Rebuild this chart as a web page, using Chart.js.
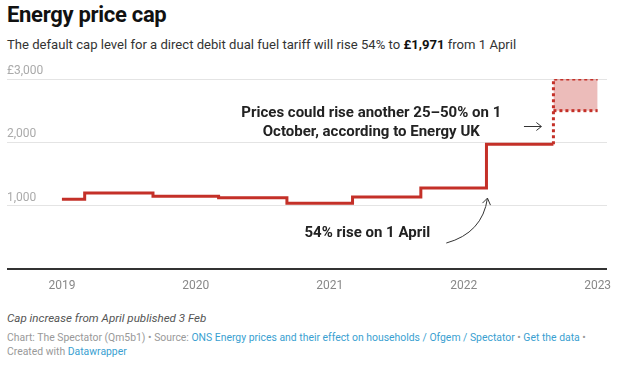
<!DOCTYPE html>
<html>
<head>
<meta charset="utf-8">
<script src="https://cdn.jsdelivr.net/npm/chart.js@4/dist/chart.umd.min.js"></script>
<style>
  html,body{margin:0;padding:0;background:#fff;width:620px;height:376px;overflow:hidden;font-family:Roboto,"Noto Sans",sans-serif;}
  #title{position:absolute;left:7px;top:2px;font-size:22px;font-weight:700;color:#111;letter-spacing:-0.3px;}
  #sub{position:absolute;left:7px;top:37px;font-size:13.1px;color:#333;}
  #sub b{color:#111;}
  #wrap{position:absolute;left:0;top:60px;width:620px;height:240px;}
  #note{position:absolute;left:7px;top:311px;font-size:11.6px;font-style:italic;color:#555;}
  #src{position:absolute;left:7px;top:331px;font-size:10.4px;color:#999;line-height:14px;}
  #src span.l{color:#3a9fd1;}
</style>
</head>
<body>
<div id="title">Energy price cap</div>
<div id="sub">The default cap level for a direct debit dual fuel tariff will rise 54% to <b>£1,971</b> from 1 April</div>
<div id="wrap"><canvas id="c"></canvas></div>
<div id="note">Cap increase from April published 3 Feb</div>
<div id="src">Chart: The Spectator (Qm5b1) • Source: <span class="l">ONS Energy prices and their effect on households / Ofgem / Spectator</span> • <span class="l">Get the data</span> •<br>Created with <span class="l">Datawrapper</span></div>
<script>
// Dates as decimal years (step start), cap level in £
const capDates  = [2019.0, 2019.17, 2019.68, 2020.17, 2020.68, 2021.17, 2021.68, 2022.17, 2022.67];
const capValues = [1100,   1200,    1150,    1125,    1040,    1138,    1277,    1971,    1971];
// Projected October range (Energy UK: +25–50%)
const projDates = [2022.67, 2023.0];
const projLow   = [2500, 2500];
const projHigh  = [3000, 3000];
const jumpLine  = [[2022.67, 1971], [2022.67, 3000]];
const yearTicks = [2019, 2020, 2021, 2022, 2023];
const yTicks    = [0, 1000, 2000, 3000];

const RED = 'rgb(196,48,40)';
const pts = (xs, ys) => xs.map((x, i) => ({x, y: ys[i]}));

const annot = {
  id: 'annot',
  afterDatasetsDraw(chart) {
    const {ctx, scales:{x, y}} = chart;
    ctx.save();
    ctx.fillStyle = '#222';
    ctx.font = 'bold 15px Roboto, sans-serif';
    ctx.textAlign = 'center';
    ctx.textBaseline = 'middle';
    const cx = x.getPixelForValue(2021.31);
    ctx.fillText('Prices could rise another 25–50% on 1', cx, y.getPixelForValue(2460));
    ctx.fillText('October, according to Energy UK', cx, y.getPixelForValue(2160));
    ctx.fillText('54% rise on 1 April', x.getPixelForValue(2021.28), y.getPixelForValue(560));

    ctx.strokeStyle = '#333';
    ctx.lineWidth = 1;
    // straight arrow to projection
    const ay = y.getPixelForValue(2250);
    const ax0 = x.getPixelForValue(2022.45), ax1 = x.getPixelForValue(2022.58);
    ctx.beginPath(); ctx.moveTo(ax0, ay); ctx.lineTo(ax1, ay);
    ctx.moveTo(ax1 - 5, ay - 4); ctx.lineTo(ax1, ay); ctx.lineTo(ax1 - 5, ay + 4);
    ctx.stroke();
    // curved arrow to April rise
    const tx = x.getPixelForValue(2022.17) + 1, ty = y.getPixelForValue(1277) + 10;
    const sx = x.getPixelForValue(2021.87), sy = y.getPixelForValue(410);
    ctx.beginPath(); ctx.moveTo(sx, sy);
    ctx.quadraticCurveTo(tx - 5, sy - 10, tx, ty);
    ctx.stroke();
    ctx.beginPath();
    ctx.moveTo(tx - 5, ty + 5); ctx.lineTo(tx, ty); ctx.lineTo(tx + 3, ty + 7);
    ctx.stroke();
    ctx.restore();
  }
};

new Chart(document.getElementById('c'), {
  type: 'line',
  data: {
    datasets: [
      { data: pts(capDates, capValues), stepped: 'before', borderColor: RED, borderWidth: 3, pointRadius: 0, fill: false },
      { data: jumpLine.map(p => ({x: p[0], y: p[1]})).concat([{x: projDates[1], y: projHigh[1]}]), borderColor: RED, borderWidth: 3, borderDash: [3, 3], pointRadius: 0, fill: false },
      { data: pts(projDates, projLow), borderColor: RED, borderWidth: 3, borderDash: [3, 3], pointRadius: 0, fill: false },
      { data: pts(projDates, projHigh), borderWidth: 0, borderColor: 'rgba(0,0,0,0)', backgroundColor: 'rgba(196,48,40,0.32)', pointRadius: 0, fill: '-1' }
    ]
  },
  options: {
    responsive: true, maintainAspectRatio: false, animation: false,
    layout: { padding: { left: 7, right: 13, top: 19, bottom: 0 } },
    plugins: { legend: { display: false }, tooltip: { enabled: false } },
    scales: {
      x: {
        type: 'linear', min: 2018.59, max: 2023.07,
        afterBuildTicks: s => { s.ticks = yearTicks.map(v => ({value: v})); },
        afterFit: s => { s.height = 31; },
        grid: { display: false }, border: { display: false },
        ticks: { color: '#888', font: { family: 'Roboto', size: 12 }, padding: 2, maxRotation: 0, autoSkip: false, callback: v => String(v) }
      },
      y: {
        min: 0, max: 3000,
        afterBuildTicks: s => { s.ticks = yTicks.map(v => ({value: v})); },
        afterFit: s => { s.width = 0; },
        border: { display: false },
        grid: { drawTicks: false, color: c => c.tick.value === 0 ? '#333' : '#e4e4e4', lineWidth: c => c.tick.value === 0 ? 2 : 1 },
        ticks: { mirror: true, padding: 0, labelOffset: -8, color: '#aaa', font: { family: 'Roboto', size: 12 },
          callback: v => v === 0 ? '' : (v === 3000 ? '£' : '') + v.toLocaleString('en-GB') }
      }
    }
  },
  plugins: [annot]
});
</script>
</body>
</html>
